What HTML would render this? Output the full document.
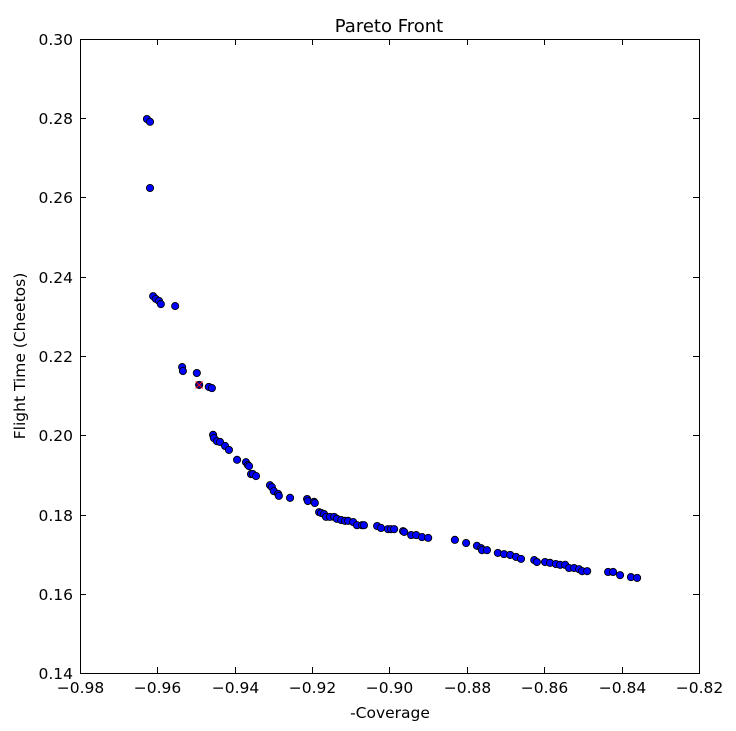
<!DOCTYPE html>
<html><head><meta charset="utf-8"><style>
body{margin:0;background:#fff;}
svg{display:block;font-family:"DejaVu Sans","Liberation Sans",sans-serif;}
</style></head><body>
<svg id="chart" width="736" height="731">
<rect x="0" y="0" width="736" height="731" fill="#fff"/>
<g id="marks"></g>
<rect x="80.5" y="39.5" width="619" height="634" fill="none" stroke="#000" stroke-width="1"/>
<g id="axes"></g>
<text x="389" y="32" text-anchor="middle" font-size="18">Pareto Front</text>
<text x="390" y="718" text-anchor="middle" font-size="15.5">-Coverage</text>
<text x="25" y="356" text-anchor="middle" font-size="15.5" transform="rotate(-90 25 356)">Flight Time (Cheetos)</text>
</svg>
<script>
const xTicks=[-0.98,-0.96,-0.94,-0.92,-0.90,-0.88,-0.86,-0.84,-0.82];
const xTickLabels=["\u22120.98","\u22120.96","\u22120.94","\u22120.92","\u22120.90","\u22120.88","\u22120.86","\u22120.84","\u22120.82"];
const yTicks=[0.14,0.16,0.18,0.20,0.22,0.24,0.26,0.28,0.30];
const yTickLabels=["0.14","0.16","0.18","0.20","0.22","0.24","0.26","0.28","0.30"];
const coverage=[-0.9627,-0.9619,-0.9619,-0.9611,-0.9604,-0.9596,-0.9591,-0.9554,-0.9536,-0.9534,-0.9498,-0.9467,-0.9459,-0.9456,-0.9454,-0.9446,-0.9438,-0.9425,-0.9415,-0.9394,-0.9371,-0.9366,-0.9363,-0.9358,-0.9353,-0.9345,-0.9309,-0.9304,-0.9299,-0.9288,-0.9286,-0.9257,-0.9213,-0.9211,-0.9195,-0.9193,-0.9182,-0.9177,-0.9169,-0.9164,-0.9154,-0.9143,-0.9136,-0.9125,-0.9115,-0.9107,-0.9094,-0.9084,-0.9071,-0.9066,-0.9032,-0.9022,-0.9004,-0.8996,-0.8988,-0.8965,-0.8962,-0.8944,-0.8931,-0.8916,-0.8900,-0.8831,-0.8802,-0.8774,-0.8763,-0.8761,-0.8748,-0.8720,-0.8704,-0.8688,-0.8673,-0.8660,-0.8626,-0.8619,-0.8598,-0.8585,-0.8570,-0.8559,-0.8546,-0.8536,-0.8523,-0.8510,-0.8502,-0.8489,-0.8435,-0.8422,-0.8404,-0.8376,-0.8360];
const flightTime=[0.2798,0.2791,0.2624,0.2351,0.2344,0.2339,0.2331,0.2326,0.2172,0.2162,0.2157,0.2122,0.2119,0.2001,0.1993,0.1985,0.1983,0.1973,0.1963,0.1938,0.1932,0.1925,0.1922,0.1902,0.1902,0.1897,0.1874,0.1869,0.1859,0.1852,0.1847,0.1842,0.1839,0.1834,0.1832,0.1829,0.1806,0.1804,0.1801,0.1794,0.1794,0.1794,0.1789,0.1786,0.1784,0.1784,0.1781,0.1773,0.1773,0.1773,0.1771,0.1766,0.1763,0.1763,0.1763,0.1758,0.1756,0.1748,0.1748,0.1743,0.1741,0.1736,0.1728,0.1721,0.1715,0.1710,0.1710,0.1703,0.1700,0.1698,0.1693,0.1688,0.1685,0.1680,0.1680,0.1678,0.1675,0.1673,0.1673,0.1665,0.1665,0.1662,0.1657,0.1657,0.1655,0.1655,0.1647,0.1642,0.1640];
const selectedPoint=[-0.9492,0.2127];
const NS="http://www.w3.org/2000/svg";
const X0=80,X1=699,Y0=673,Y1=39;
function sx(v){return X0+(v-xTicks[0])/(xTicks[xTicks.length-1]-xTicks[0])*(X1-X0);}
function sy(v){return Y0-(v-yTicks[0])/(yTicks[yTicks.length-1]-yTicks[0])*(Y0-Y1);}
function mk(tag,attrs){const e=document.createElementNS(NS,tag);for(const k in attrs)e.setAttribute(k,attrs[k]);return e;}
const axes=document.getElementById('axes'),marks=document.getElementById('marks');
xTicks.forEach((t,i)=>{const x=Math.round(sx(t))+0.5;
 const a=mk('line',{x1:x,x2:x,y1:673,y2:667,stroke:'#000'});
 
 axes.appendChild(a);
 const b=mk('line',{x1:x,x2:x,y1:39,y2:45,stroke:'#000'});
 
 axes.appendChild(b);
 const l=mk('text',{x:x,y:693,'text-anchor':'middle','font-size':15.5});l.textContent=xTickLabels[i];
 
 axes.appendChild(l);});
yTicks.forEach((t,i)=>{const y=Math.round(sy(t))+0.5;
 const a=mk('line',{x1:80,x2:86,y1:y,y2:y,stroke:'#000'});
 
 axes.appendChild(a);
 const b=mk('line',{x1:699,x2:693,y1:y,y2:y,stroke:'#000'});
 
 axes.appendChild(b);
 const l=mk('text',{x:73,y:y+5.5,'text-anchor':'end','font-size':15.5});l.textContent=yTickLabels[i];
 
 axes.appendChild(l);});
coverage.forEach((c,i)=>{const p=mk('circle',{cx:sx(c),cy:sy(flightTime[i]),r:3.6,fill:'#0000ff',stroke:'#000','stroke-width':0.9});
 
 marks.appendChild(p);});
const sp=mk('g',{});


const px=sx(selectedPoint[0]),py=sy(selectedPoint[1]);
sp.appendChild(mk('circle',{cx:px,cy:py,r:3.6,fill:'#0000aa',stroke:'#000','stroke-width':0.9}));
sp.appendChild(mk('path',{d:`M${px-3.5} ${py-3.5}L${px+3.5} ${py+3.5}M${px-3.5} ${py+3.5}L${px+3.5} ${py-3.5}`,stroke:'#ff0000','stroke-width':1}));
marks.appendChild(sp);
</script>
</body></html>
